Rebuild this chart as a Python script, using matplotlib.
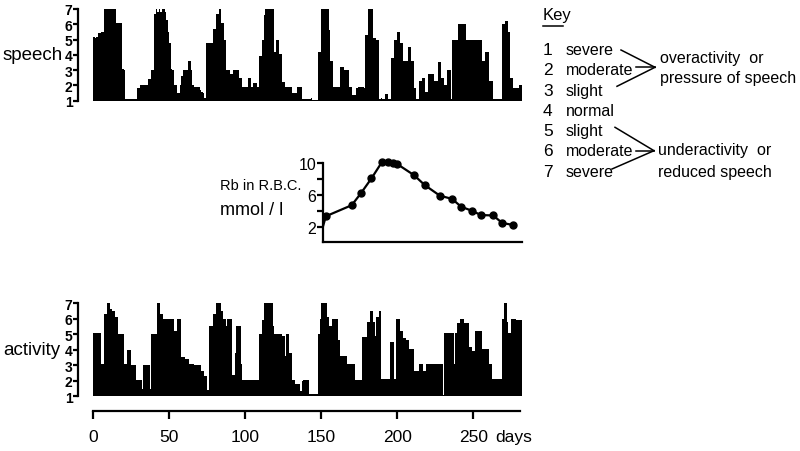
import numpy as np
import matplotlib.pyplot as plt
from matplotlib.lines import Line2D

plt.rcParams['font.family'] = ['Liberation Sans', 'DejaVu Sans']

# daily ratings (1 = severe over, 7 = severe under), day 0 .. 281
speech = [
    5.2, 5.1, 5.2, 5.4, 5.4, 5.5, 5.5, 7, 7, 7, 7, 7, 7, 7, 7, 6.1, 6.1, 6.1, 6.1, 3.1,
    3.0, 1.1, 1.1, 1.1, 1.1, 1.1, 1.1, 1.1, 1.1, 1.8, 1.8, 2.0, 2.0, 2.0, 2.0, 2.0, 2.4, 2.4, 3.0, 3.0,
    6.7, 7, 6.8, 7, 6.8, 7, 7, 6.8, 6.3, 5.5, 4.8, 3.1, 3.0, 2.0, 2.0, 1.5, 1.5, 2.0, 2.6, 3.0,
    3.0, 3.0, 3.6, 3.6, 3.0, 2.0, 1.9, 1.9, 1.9, 1.9, 1.7, 1.6, 1.5, 1.2, 4.8, 4.8, 4.8, 4.8, 4.8, 5.7,
    5.7, 6.7, 6.7, 7, 6.1, 6.1, 5.0, 3.0, 3.0, 3.0, 2.75, 2.75, 3.0, 3.0, 3.0, 3.0, 2.5, 2.5, 1.9, 1.9,
    1.9, 1.9, 2.5, 2.5, 1.9, 2.15, 2.15, 2.15, 1.9, 3.9, 3.9, 5.0, 6.6, 7, 7, 7, 7, 7, 7, 4.2,
    5.0, 5.0, 4.05, 4.05, 2.2, 2.2, 1.9, 1.9, 1.9, 1.9, 1.9, 1.5, 1.5, 1.5, 1.9, 1.9, 1.9, 1.1, 1.1, 1.1,
    1.1, 1.1, 1.1, 1.2, 1.05, 1.05, 1.05, 1.05, 4.2, 4.2, 7, 7, 7, 7, 7, 5.6, 3.6, 3.6, 1.9, 1.9,
    1.9, 1.9, 3.2, 3.2, 3.2, 3.0, 3.0, 3.0, 1.9, 1.9, 1.4, 1.4, 1.4, 1.8, 1.9, 1.9, 1.9, 1.9, 1.8, 5.3,
    5.3, 7, 7, 7, 5.1, 5.1, 5.0, 5.0, 1.1, 1.2, 1.1, 1.1, 1.45, 1.45, 1.1, 1.1, 3.8, 3.8, 5.0, 5.0,
    5.5, 5.5, 4.8, 4.8, 3.6, 3.6, 3.6, 4.5, 4.5, 3.6, 3.6, 1.8, 1.1, 1.1, 2.3, 2.3, 2.5, 2.5, 1.55, 1.55,
    2.75, 2.75, 2.75, 2.75, 2.3, 2.3, 2.3, 3.55, 3.55, 2.5, 2.5, 2.0, 2.0, 3.0, 3.0, 1.1, 5.0, 5.0, 5.0, 5.0,
    6.0, 6.0, 6.0, 6.0, 6.0, 5.0, 5.0, 5.0, 5.0, 5.0, 5.0, 5.0, 5.0, 5.0, 5.0, 5.0, 3.6, 3.6, 4.2, 4.2,
    2.3, 2.3, 2.3, 1.1, 1.1, 1.1, 1.1, 1.1, 1.1, 6.0, 6.0, 6.2, 6.2, 5.5, 2.5, 2.5, 1.8, 1.8, 1.8, 1.8,
    2.0, 2.0,
]

activity = [
    5.05, 5.05, 5.05, 5.05, 5.05, 3.1, 3.1, 6.3, 6.3, 7, 7, 6.6, 6.5, 6.5, 6.1, 6.1, 5.0, 5.0, 5.0, 5.0,
    3.1, 3.1, 4.0, 4.0, 4.0, 3.0, 3.0, 3.0, 2.05, 2.05, 2.05, 2.05, 1.5, 3.0, 3.0, 3.0, 3.0, 1.5, 5.0, 5.0,
    5.0, 5.0, 7, 7, 6.3, 6.3, 6.0, 6.0, 6.0, 6.0, 6.0, 6.0, 6.0, 5.2, 5.2, 6.0, 6.0, 6.0, 3.55, 3.55,
    3.4, 3.4, 3.4, 3.1, 3.1, 3.1, 3.0, 3.0, 3.0, 3.0, 3.0, 2.6, 2.6, 2.3, 2.3, 1.4, 5.5, 5.5, 5.5, 6.3,
    6.3, 7, 7, 7, 6.5, 6.0, 6.0, 5.5, 6.0, 6.0, 6.0, 2.4, 2.4, 3.8, 5.5, 5.5, 5.5, 3.1, 2.05, 2.05,
    2.05, 2.05, 2.05, 2.05, 2.05, 2.05, 2.05, 2.05, 2.05, 5.0, 5.0, 5.9, 7, 7, 7, 7, 7, 7, 5.5, 5.0,
    5.0, 5.0, 5.0, 5.0, 4.9, 4.9, 3.6, 5.0, 5.0, 3.8, 3.8, 2.05, 2.05, 1.8, 1.8, 1.8, 1.35, 2.0, 2.05, 2.05,
    2.05, 2.05, 1.15, 1.15, 1.15, 1.15, 1.15, 1.15, 5.0, 6.0, 7, 7, 7, 7, 6.1, 5.5, 5.5, 6.0, 6.0, 6.0,
    6.0, 4.6, 3.6, 3.6, 3.6, 3.6, 3.6, 3.1, 3.1, 3.1, 3.1, 3.1, 2.05, 2.05, 2.05, 2.05, 2.05, 4.8, 4.8, 4.8,
    5.75, 5.75, 6.5, 6.5, 5.75, 4.9, 6.1, 6.1, 6.5, 2.1, 2.1, 2.1, 2.1, 2.1, 2.1, 4.5, 4.5, 4.5, 2.1, 6.0,
    6.0, 6.0, 5.2, 5.2, 4.75, 4.75, 4.6, 4.6, 4.05, 4.05, 4.05, 2.6, 2.6, 2.6, 3.1, 3.1, 3.1, 2.6, 2.6, 3.1,
    3.1, 3.1, 3.1, 3.1, 3.1, 3.1, 3.1, 3.1, 3.1, 3.1, 1.1, 5.1, 5.1, 5.1, 5.1, 5.1, 5.1, 3.1, 5.1, 5.7,
    5.7, 6.0, 6.0, 6.0, 5.7, 5.7, 5.7, 4.2, 4.2, 3.9, 3.9, 5.2, 5.2, 5.2, 5.2, 5.2, 4.05, 4.05, 4.05, 4.05,
    3.1, 3.1, 2.1, 2.1, 2.1, 2.1, 2.1, 2.1, 2.1, 6.0, 7, 7, 5.8, 5.1, 5.1, 6.0, 6.0, 6.0, 5.9, 5.9,
    5.9, 5.9,
]

# Rb in red blood cells (mmol/l)
rb_days = [151, 153, 170, 176, 183, 190, 194, 197, 200, 211, 218, 228, 236, 242, 249, 255, 263, 269, 276]
rb_vals = [1.95, 3.3, 4.7, 6.2, 8.1, 10.2, 10.2, 10.05, 9.9, 8.5, 7.25, 5.9, 5.5, 4.5, 4.0, 3.45, 3.4, 2.45, 2.2]

day_ticks = [0, 50, 100, 150, 200, 250]
key_nums = ['1', '2', '3', '4', '5', '6', '7']
key_words = ['severe', 'moderate', 'slight', 'normal', 'slight', 'moderate', 'severe']

W, H = 800, 452
fig = plt.figure(figsize=(8, 4.52), dpi=100)


def px_axes(x0, y0, x1, y1):
    return fig.add_axes([x0 / W, 1 - y1 / H, (x1 - x0) / W, (y1 - y0) / H])


def rating_panel(ax, vals):
    edges = np.arange(len(vals) + 1)
    ax.stairs(vals, edges, baseline=1, fill=True, color='black', lw=0)
    ax.set_xlim(-10, 283)
    ax.set_ylim(1, 7)
    for s in ['top', 'right', 'bottom']:
        ax.spines[s].set_visible(False)
    ax.spines['left'].set_linewidth(1.6)
    ax.set_xticks([])
    ax.set_yticks(range(1, 8))
    ax.tick_params(axis='y', length=3.5, width=1.6, pad=0.5, labelsize=10)
    for t in ax.get_yticklabels():
        t.set_fontweight('bold')
    ax.patch.set_alpha(0)


ax_s = px_axes(78.1, 10, 523.5, 101.7)
rating_panel(ax_s, speech)
fig.text(3 / W, 1 - 60 / H, 'speech', fontsize=13.5, ha='left', va='baseline')

ax_a = px_axes(78.1, 304, 523.5, 397.3)
rating_panel(ax_a, activity)
fig.text(3 / W, 1 - 355 / H, 'activity', fontsize=13.5, ha='left', va='baseline')

# day axis
ax_d = px_axes(78.1, 380, 523.5, 411.7)
ax_d.set_xlim(-10, 283)
for s in ['top', 'right', 'left']:
    ax_d.spines[s].set_visible(False)
ax_d.spines['bottom'].set_bounds(0, 281)
ax_d.spines['bottom'].set_linewidth(1.6)
ax_d.set_yticks([])
ax_d.set_xticks(day_ticks)
ax_d.tick_params(axis='x', length=6, width=1.6, pad=7.5, labelsize=12.5)
ax_d.patch.set_alpha(0)
ax_d.text(264.5, -0.95, 'days', fontsize=12.5, ha='left', va='baseline',
          transform=ax_d.get_xaxis_transform())

# Rb panel
ax_r = px_axes(323.3, 160.4, 521.7, 243.3)
ax_r.plot(rb_days, rb_vals, color='black', lw=1.6, clip_on=False)
ax_r.plot(rb_days[1:], rb_vals[1:], 'o', color='black', ms=5, clip_on=False)
ax_r.set_xlim(151.3, 281.8)
ax_r.set_ylim(0, 10.5)
for s in ['top', 'right']:
    ax_r.spines[s].set_visible(False)
ax_r.spines['left'].set_bounds(0, 10)
ax_r.spines['left'].set_linewidth(1.6)
ax_r.spines['bottom'].set_linewidth(1.6)
ax_r.set_xticks([])
ax_r.set_yticks([2, 4, 6, 8, 10])
ax_r.set_yticklabels(['2', '', '6', '', '10'])
ax_r.tick_params(axis='y', length=4, width=1.6, pad=1, labelsize=11.5)
ax_r.patch.set_alpha(0)
fig.text(220 / W, 1 - 190 / H, 'Rb in R.B.C.', fontsize=10.5, ha='left', va='baseline')
fig.text(220 / W, 1 - 215 / H, 'mmol / l', fontsize=13, ha='left', va='baseline')

# key
fig.text(543 / W, 1 - 20 / H, 'Key', fontsize=12, ha='left', va='baseline')
fig.add_artist(Line2D([543 / W, 563 / W], [1 - 26.5 / H, 1 - 26.5 / H], color='black', lw=1.1))
key_base = [55, 75.3, 95.6, 115.9, 136.2, 156.5, 176.8]
for n, w, yb in zip(key_nums, key_words, key_base):
    fig.text(543 / W, 1 - yb / H, n, fontsize=12.5, ha='left', va='baseline')
    fig.text(566 / W, 1 - yb / H, w, fontsize=11.5, ha='left', va='baseline')

fig.text(660 / W, 1 - 63.3 / H, 'overactivity  or', fontsize=11.5, ha='left', va='baseline')
fig.text(660 / W, 1 - 83.3 / H, 'pressure of speech', fontsize=11.5, ha='left', va='baseline')
fig.text(658 / W, 1 - 155 / H, 'underactivity  or', fontsize=11.5, ha='left', va='baseline')
fig.text(658 / W, 1 - 176.7 / H, 'reduced speech', fontsize=11.5, ha='left', va='baseline')

brackets = [
    ((655, 68.3), [(621, 51), (636, 68.3), (617, 87.3)]),
    ((654, 151.7), [(615, 128.3), (636, 151.7), (612, 170)]),
]
for (ax_x, ax_y), starts in brackets:
    for sx, sy in starts:
        fig.add_artist(Line2D([sx / W, ax_x / W], [1 - sy / H, 1 - ax_y / H], color='black', lw=1.1))

fig.savefig('out.png', dpi=100)
